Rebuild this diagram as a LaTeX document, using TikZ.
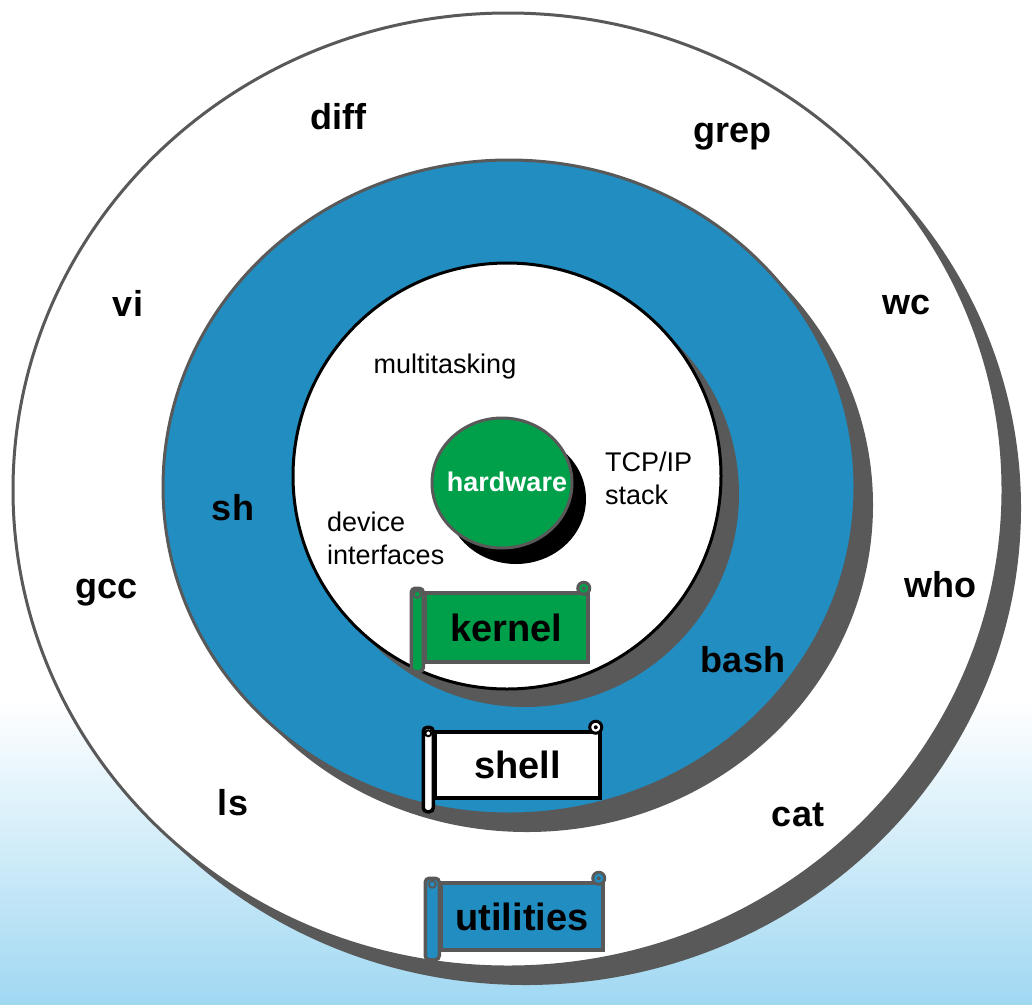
\documentclass[tikz,border=0pt]{standalone}
\usepackage{fontspec}
\setmainfont{Liberation Sans}
\definecolor{ringblue}{RGB}{33,141,192}
\definecolor{hwgreen}{RGB}{0,160,75}
\definecolor{shadowgray}{RGB}{89,89,89}
\definecolor{skyblue}{RGB}{160,216,242}
\tikzset{
  prog/.style={font=\fontsize{36}{40}\selectfont\bfseries, inner sep=0pt},
  feature/.style={font=\fontsize{27}{33}\selectfont, inner sep=0pt, align=left},
  banner/.style={rectangle, line width=3.5pt, inner sep=0pt, font=\fontsize{38}{40}\selectfont\bfseries},
  roll/.style={line width=3.5pt, rounded corners=4pt}
}

\begin{document}
\begin{tikzpicture}[x=1pt, y=-1pt]
	\useasboundingbox (0,0) rectangle (1032,1004);
	% background
	\fill[top color=white, bottom color=skyblue] (0,700) rectangle (1032,1004);

	% rings with their shadows
	\fill[shadowgray] (526,508) ellipse (495 and 477);
	\filldraw[fill=white, draw=shadowgray, line width=3pt] (508,490) ellipse (495 and 477);
	\fill[shadowgray] (527,505) ellipse (346 and 327);
	\filldraw[fill=ringblue, draw=shadowgray, line width=3pt] (509,487) ellipse (346 and 327);
	\fill[shadowgray] (525,494) ellipse (214 and 213);
	\filldraw[fill=white, draw=black, line width=3pt] (507,476) ellipse (214 and 213);
	\fill[black] (516,499) ellipse (70 and 65);
	\filldraw[fill=hwgreen, draw=shadowgray, line width=3pt] (502,483) ellipse (70 and 65);

	\begin{scope}[every node/.style={prog}]
		\node (diff) at (338,117) {diff};
		\node (grep) at (732,137) {grep};
		\node (vi) at (128,303) {vi};
		\node (wc) at (906,305) {wc};
		\node (gcc) at (107,593) {gcc};
		\node (who) at (940,585) {who};
		\node (ls) at (233,803) {ls};
		\node (cat) at (798,815) {cat};
		\node (sh) at (233,508) {sh};
		\node (bash) at (743,660) {bash};
	\end{scope}

	\node[feature] (multitasking) at (445,367) {multitasking};
	\node[feature, anchor=west] (tcpip) at (605,478) {TCP/IP\\stack};
	\node[feature, anchor=west] (device) at (327,538) {device\\interfaces};
	\node[prog, font=\fontsize{27}{30}\selectfont\bfseries, text=white] (hardware) at (507,482) {hardware};

	% scroll banners
	\node[banner, fill=hwgreen, draw=shadowgray, minimum width=163, minimum height=69] (kernel) at (506.5,627.5) {kernel};
	\filldraw[roll, fill=hwgreen, draw=shadowgray] ([xshift=-12pt, yshift=3pt]kernel.north west) rectangle ([yshift=-8pt]kernel.south west);
	\filldraw[fill=hwgreen, draw=shadowgray, line width=2pt] ([xshift=-6pt, yshift=-3pt]kernel.north west) circle (3.5pt);
	\filldraw[fill=hwgreen, draw=shadowgray, line width=3pt] ([xshift=-6pt, yshift=3pt]kernel.north east) circle (6pt);
	\fill[shadowgray] ([xshift=-6pt, yshift=3pt]kernel.north east) circle (2pt);

	\node[banner, fill=white, draw=black, minimum width=165, minimum height=66] (shell) at (517.5,765) {shell};
	\filldraw[roll, fill=white, draw=black] ([xshift=-10pt, yshift=3pt]shell.north west) rectangle ([yshift=-12pt]shell.south west);
	\filldraw[fill=white, draw=black, line width=2pt] ([xshift=-5pt, yshift=-3pt]shell.north west) circle (3pt);
	\filldraw[fill=white, draw=black, line width=3pt] ([xshift=-6pt, yshift=3pt]shell.north east) circle (6pt);
	\fill[black] ([xshift=-6pt, yshift=3pt]shell.north east) circle (2pt);

	\node[banner, fill=ringblue, draw=shadowgray, minimum width=162, minimum height=67] (utilities) at (522,916.5) {utilities};
	\filldraw[roll, fill=ringblue, draw=shadowgray] ([xshift=-14pt, yshift=3pt]utilities.north west) rectangle ([yshift=-8pt]utilities.south west);
	\filldraw[fill=ringblue, draw=shadowgray, line width=2pt] ([xshift=-7pt, yshift=-3pt]utilities.north west) circle (3.5pt);
	\filldraw[fill=ringblue, draw=shadowgray, line width=3pt] ([xshift=-6pt, yshift=3pt]utilities.north east) circle (6pt);
	\fill[shadowgray] ([xshift=-6pt, yshift=3pt]utilities.north east) circle (2pt);
\end{tikzpicture}
\end{document}
